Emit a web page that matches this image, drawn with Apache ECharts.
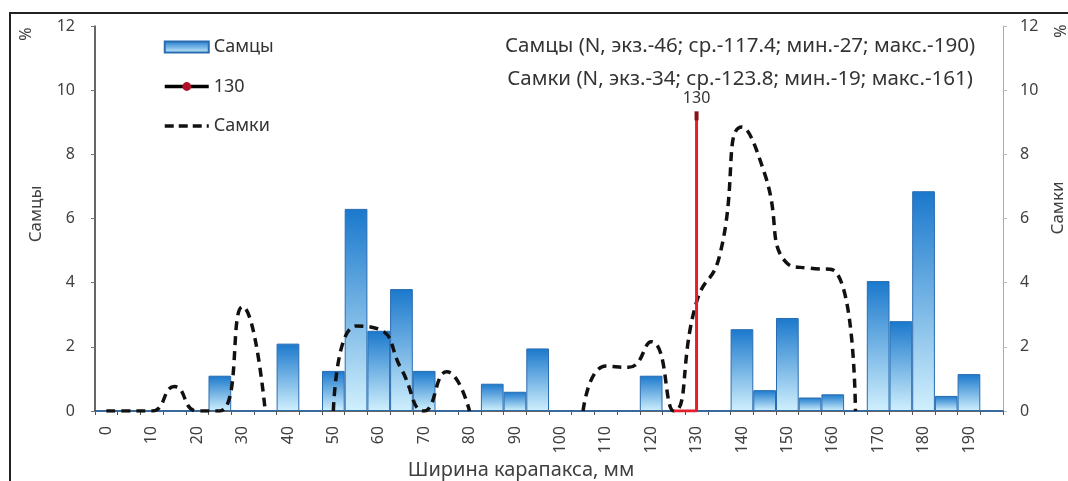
<!DOCTYPE html>
<html>
<head>
<meta charset="utf-8">
<script src="https://cdn.jsdelivr.net/npm/echarts@6/dist/echarts.min.js"></script>
<style>
html,body{margin:0;padding:0;background:#fff;}
#chart{width:1068px;height:481px;}
</style>
</head>
<body>
<div id="chart"></div>
<script>
// Category labels (carapace width, mm)
var categories = ['0','5','10','15','20','25','30','35','40','45','50','55','60','65','70','75','80','85','90','95',
  '100','105','110','115','120','125','130','135','140','145','150','155','160','165','170','175','180','185','190','195'];
// Males, % (bars)
var males = [0,0,0,0,0,1.1,0,0,2.1,0,1.25,6.3,2.5,3.8,1.25,0,0,0.85,0.6,1.95,
  0,0,0,0,1.1,0,0,0,2.55,0.65,2.9,0.42,0.52,0,4.05,2.8,6.85,0.47,1.15,0];
// Females, % (dashed smooth line); null where no line is drawn
var females = [0,0,0,0.76,0,0,3.25,0,null,null,0,2.65,2.55,1.3,0,1.22,0,null,null,null,
  null,0,1.4,1.36,2.16,0,3.4,4.8,8.85,7.4,4.6,4.45,4.4,0,null,null,null,null,null,null];
// Marker "130"
var markerX = ['125','130','130'];
var markerY = [0,0,9.2];
var titleLines = ['Самцы (N, экз.-46; ср.-117.4; мин.-27; макс.-190)',
                  'Самки (N, экз.-34; ср.-123.8; мин.-19; макс.-161)'];

var FONT = 'Noto Sans';
var TXT = '#404040';

var markerData = markerX.map(function(x, i){
  var item = {value:[x, markerY[i]], symbol:'none'};
  if (i === markerX.length - 1) {
    item.symbol = 'rect';
    item.symbolSize = [4, 9];
    item.itemStyle = {color:'#8b0d1a'};
    item.label = {show:true, position:'top', formatter:'130', distance:5,
      color:'#333', fontFamily:FONT, fontSize:16};
  }
  return item;
});

var chart = echarts.init(document.getElementById('chart'), null, {renderer:'canvas'});
var option = {
  backgroundColor:'#fff',
  animation:false,
  textStyle:{fontFamily:FONT},
  title:[
    {text:titleLines[0], left:735, top:31, textAlign:'center',
     textStyle:{fontFamily:FONT, fontSize:20.5, fontWeight:'normal', color:'#333'}},
    {text:titleLines[1], left:735, top:64, textAlign:'center',
     textStyle:{fontFamily:FONT, fontSize:20.5, fontWeight:'normal', color:'#333'}}
  ],
  legend:{
    orient:'vertical', left:158, top:32, itemWidth:44, itemHeight:11, itemGap:19.5,
    textStyle:{fontFamily:FONT, fontSize:18, lineHeight:20, color:'#333'},
    data:[
      {name:'Самцы', icon:'rect'},
      {name:'130', itemStyle:{color:'#b0102a'}, lineStyle:{color:'#000', width:3.5}},
      {name:'Самки', itemStyle:{opacity:0}, lineStyle:{color:'#111', width:3.5, type:[9,5]}}
    ]
  },
  grid:{left:95, right:65, top:26, bottom:70, containLabel:false},
  xAxis:{
    type:'category', data:categories, boundaryGap:true,
    axisLine:{lineStyle:{color:'#333', width:1.5}},
    axisTick:{show:true, length:4, lineStyle:{color:'#555'}, interval:0},
    axisLabel:{interval:1, rotate:90, margin:15, color:TXT, fontFamily:FONT, fontSize:16},
    splitLine:{show:false}
  },
  yAxis:[
    {type:'value', min:0, max:12, interval:2,
     axisLine:{show:true, lineStyle:{color:'#333', width:1.5}},
     axisTick:{show:true, length:4, lineStyle:{color:'#777'}},
     axisLabel:{margin:20, color:TXT, fontFamily:FONT, fontSize:16},
     splitLine:{show:false}},
    {type:'value', min:0, max:12, interval:2, position:'right',
     axisLine:{show:true, lineStyle:{color:'#aaa', width:1}},
     axisTick:{show:true, length:4, lineStyle:{color:'#bbb'}},
     axisLabel:{margin:17, color:TXT, fontFamily:FONT, fontSize:16},
     splitLine:{show:false}}
  ],
  graphic:[
    {type:'rect', shape:{x:10, y:13, width:1080, height:500},
     style:{fill:'none', stroke:'#222', lineWidth:2}, silent:true},
    {type:'text', x:36, y:214, rotation:Math.PI/2, style:{text:'Самцы', fill:TXT,
      font:'17px "Noto Sans"', textAlign:'center', textVerticalAlign:'middle'}},
    {type:'text', x:26, y:34, rotation:Math.PI/2, style:{text:'%', fill:TXT,
      font:'16px "Noto Sans"', textAlign:'center', textVerticalAlign:'middle'}},
    {type:'text', x:1058, y:208, rotation:Math.PI/2, style:{text:'Самки', fill:TXT,
      font:'17px "Noto Sans"', textAlign:'center', textVerticalAlign:'middle'}},
    {type:'text', x:1061, y:31, rotation:Math.PI/2, style:{text:'%', fill:TXT,
      font:'16px "Noto Sans"', textAlign:'center', textVerticalAlign:'middle'}},
    {type:'text', x:521, y:470, style:{text:'Ширина карапакса, мм', fill:TXT,
      font:'20px "Noto Sans"', textAlign:'center', textVerticalAlign:'middle'}}
  ],
  series:[
    {name:'Самцы', type:'bar', data:males, yAxisIndex:0, barCategoryGap:'0%',
     itemStyle:{
       color:new echarts.graphic.LinearGradient(0,0,0,1,[
         {offset:0, color:'#1a78cc'},{offset:1, color:'#d0f0fd'}]),
       borderColor:'#2a6cb0', borderWidth:1
     }, z:2},
    {name:'130', type:'line', data:markerData, yAxisIndex:0, symbol:'circle', symbolSize:8,
     lineStyle:{color:'#e3202b', width:3}, itemStyle:{color:'#e3202b'}, z:4},
    {name:'Самки', type:'line', data:females, yAxisIndex:1, smooth:0.55, symbol:'none',
     connectNulls:false,
     lineStyle:{color:'#111', width:3.5, type:[9,6]}, itemStyle:{color:'#111'}, z:3}
  ]
};
chart.setOption(option);
</script>
</body>
</html>
